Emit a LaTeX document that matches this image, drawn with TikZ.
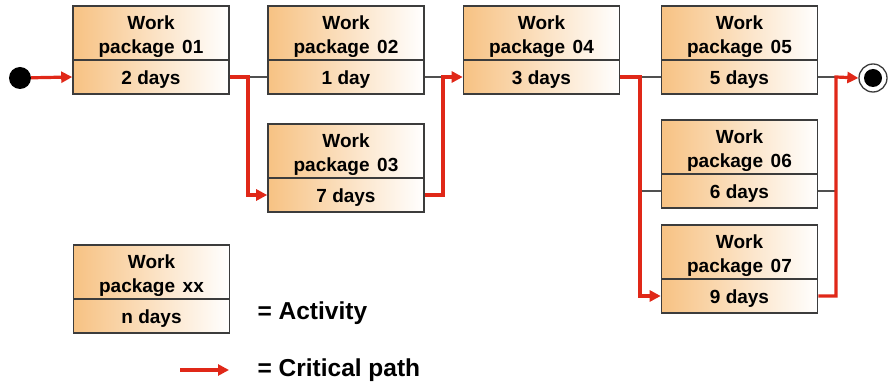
\documentclass[tikz,border=0pt]{standalone}
\usepackage{fontspec}
\setmainfont{Liberation Sans}
\usetikzlibrary{arrows.meta}
\definecolor{wporange}{HTML}{F7C283}
\definecolor{boxgray}{HTML}{3C3C3C}
\definecolor{linkgray}{HTML}{505050}
\definecolor{critred}{HTML}{E02818}
\tikzset{
  wpbase/.style={draw=boxgray, line width=1.6pt, left color=wporange, middle color=wporange!55, right color=white,
    minimum width=156pt, inner sep=0pt, align=center, font=\fontsize{19}{24}\selectfont\bfseries},
  wptop/.style={wpbase, minimum height=54pt},
  wpbot/.style={wpbase, minimum height=34pt},
  link/.style={draw=linkgray, line width=1.4pt},
  crit/.style={draw=critred, line width=3.2pt},
  critarrow/.style={crit, -{Triangle[length=11pt,width=11pt]}},
  legend/.style={anchor=west, font=\fontsize{24.5}{28}\selectfont\bfseries}
}
% two-line package label and duration, drawn slightly below the part's centre
\newcommand{\wplabel}[1]{\raisebox{-4pt}[\height][\depth]{\begin{tabular}{@{}c@{}}Work\\package\hspace{0.4em}#1\end{tabular}}}
\newcommand{\wpdays}[1]{\raisebox{-3pt}[\height][\depth]{#1}}
\begin{document}
\begin{tikzpicture}[x=1pt,y=-1pt]
  \useasboundingbox (0,0) rectangle (889,387);

  % activity boxes: name part on top, duration part below
  \node[wptop] (wp1) at (151,33) {\wplabel{01}};
  \node[wpbot] (wp1d) at (151,77) {\wpdays{2 days}};
  \node[wptop] (wp2) at (346,33) {\wplabel{02}};
  \node[wpbot] (wp2d) at (346,77) {\wpdays{1 day}};
  \node[wptop] (wp3) at (346,151) {\wplabel{03}};
  \node[wpbot] (wp3d) at (346,195) {\wpdays{7 days}};
  \node[wptop] (wp4) at (541.5,33) {\wplabel{04}};
  \node[wpbot] (wp4d) at (541.5,77) {\wpdays{3 days}};
  \node[wptop] (wp5) at (739.5,33) {\wplabel{05}};
  \node[wpbot] (wp5d) at (739.5,77) {\wpdays{5 days}};
  \node[wptop] (wp6) at (739.5,147) {\wplabel{06}};
  \node[wpbot] (wp6d) at (739.5,191) {\wpdays{6 days}};
  \node[wptop] (wp7) at (739.5,252) {\wplabel{07}};
  \node[wpbot] (wp7d) at (739.5,296) {\wpdays{9 days}};

  % legend box
  \node[wptop] (wpx) at (151.5,272) {\wplabel{xx}};
  \node[wpbot] (wpxd) at (151.5,316) {\wpdays{n days}};

  % start and end events
  \node[circle, fill=black, minimum size=22pt, inner sep=0pt] (start) at (20,78) {};
  \node[circle, draw=boxgray, line width=1.3pt, fill=white, minimum size=28pt, inner sep=0pt] (finish) at (873,78) {};
  \node[circle, fill=black, minimum size=18pt, inner sep=0pt] (finishdot) at (finish) {};

  % junction points
  \coordinate (j1) at (248,77);
  \coordinate (j2) at (443,77);
  \coordinate (j3) at (640,77);
  \coordinate (j4) at (836,77);

  % non-critical links
  \draw[link] (j1) -- (wp2d.west);
  \draw[link] (wp2d.east) -- (j2);
  \draw[link] (j3) -- (wp5d.west);
  \draw[link] (j3 |- wp6d.west) -- (wp6d.west);
  \draw[link] (wp5d.east) -- (j4);
  \draw[link] (wp6d.east) -- (wp6d.east -| j4);

  % critical path
  \draw[critarrow] (start) -- (wp1d.west);
  \draw[critarrow] (wp1d.east) -- (j1) |- (wp3d.west);
  \draw[critarrow] (wp3d.east) -| (j2) -- (wp4d.west);
  \draw[critarrow] (wp4d.east) -- (j3) |- (wp7d.west);
  \draw[critarrow] (wp7d.east) -| (j4) -- (finish.west);

  % legend
  \node[legend] (actlabel) at (254,313) {= Activity};
  \coordinate (legA) at (180,370);
  \coordinate (legB) at (229,370);
  \draw[critarrow] (legA) -- (legB);
  \node[legend] (critlabel) at (254,370) {= Critical path};
\end{tikzpicture}
\end{document}
